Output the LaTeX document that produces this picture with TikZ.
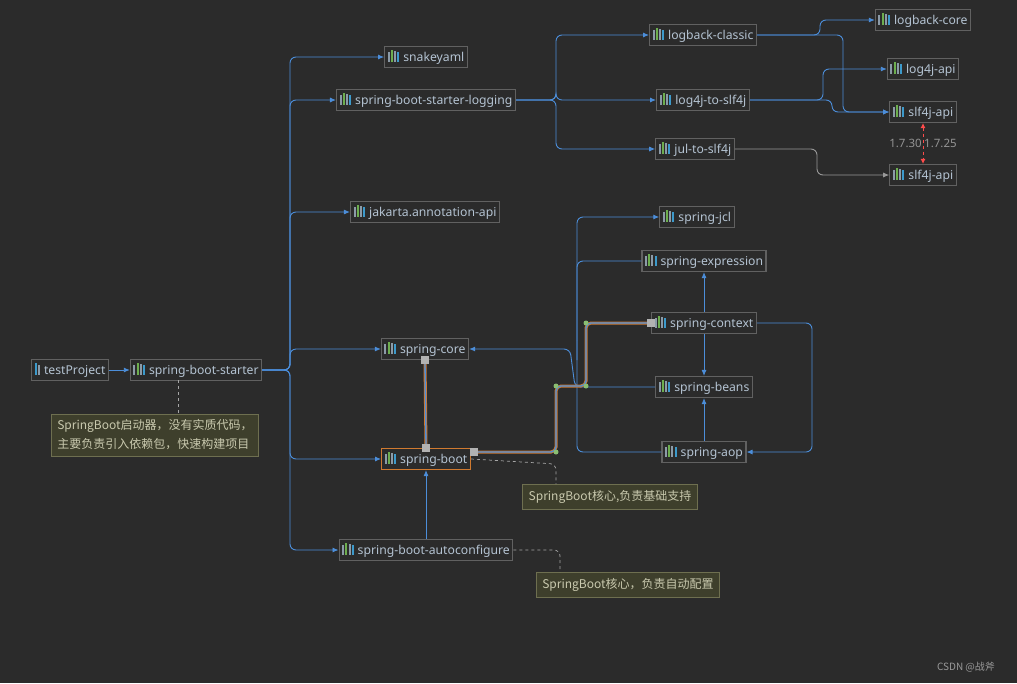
\documentclass[tikz,border=0pt]{standalone}
\usepackage{fontspec}
\setmainfont{Noto Sans}
\newfontfamily\cjk{Noto Sans CJK SC}
\usetikzlibrary{arrows.meta}
\definecolor{bg}{HTML}{2B2B2B}
\definecolor{bd}{HTML}{616161}
\definecolor{tx}{HTML}{B4C3D2}
\definecolor{ln}{HTML}{4C8EDA}
\definecolor{og}{HTML}{D07A30}
\definecolor{ig}{HTML}{6DAE4F}
\definecolor{ib}{HTML}{3D9ACB}
\definecolor{ix}{HTML}{8C9BA8}
\definecolor{nf}{HTML}{3E3F2C}
\definecolor{nb}{HTML}{6E6F50}
\definecolor{nt}{HTML}{C9C9AE}
\newcommand{\ico}{{\color{ix}\rule{2pt}{10pt}}\hspace{1.2pt}{\color{ig}\rule{2pt}{12pt}}\hspace{1.2pt}{\color{ix}\rule{2pt}{11pt}}\hspace{1.2pt}{\color{ib}\rule{2pt}{10pt}}\hspace{4pt}}
\begin{document}
\begin{tikzpicture}[x=1pt,y=-1pt,
 box/.style={draw=bd,line width=1.2pt,fill=bg,text=tx,inner sep=3pt,minimum height=20pt,font=\fontsize{12.2}{14}\selectfont},
 note/.style={draw=nb,fill=nf,text=nt,inner sep=6pt,font=\cjk\fontsize{12}{19}\selectfont,align=left},
 ed/.style={draw=ln,line width=0.9pt,rounded corners=6pt,-{Latex[length=6pt,width=5pt]}},
 pl/.style={draw=ln,line width=0.9pt,rounded corners=6pt},
 ds/.style={draw=gray!70,dashed,line width=0.7pt,rounded corners=6pt},
 hl/.style={draw=og,line width=3pt,rounded corners=5pt},
 hb/.style={draw=ln,line width=1.3pt,rounded corners=5pt},
 sq/.style={fill=gray!60!white,minimum size=8pt,inner sep=0pt},
 gd/.style={circle,fill=ig!80!white,minimum size=5pt,inner sep=0pt}]
\fill[bg] (0,0) rectangle (1017,683);
\useasboundingbox (0,0) rectangle (1017,683);
\node[box] (tp) at (70,370) {{\color{ib}\rule{2.5pt}{12pt}}\hspace{1pt}{\color{ix}\rule{2pt}{10pt}}\hspace{4pt}testProject};
\node[box] (sbs) at (196,370) {\ico spring-boot-starter};
\node[box] (sy) at (426,57) {\ico snakeyaml};
\node[box] (lg) at (426,100) {\ico spring-boot-starter-logging};
\node[box] (ja) at (425,212) {\ico jakarta.annotation-api};
\node[box] (sc) at (425,349) {\ico spring-core};
\node[box,draw=og] (sb) at (426,459) {\ico spring-boot};
\node[box] (sa) at (426,550) {\ico spring-boot-autoconfigure};
\node[box] (lc) at (703,35) {\ico logback-classic};
\node[box] (l4s) at (703,100) {\ico log4j-to-slf4j};
\node[box] (jul) at (695,149) {\ico jul-to-slf4j};
\node[box] (lcore) at (923,20) {\ico logback-core};
\node[box] (l4a) at (923,69) {\ico log4j-api};
\node[box] (s1) at (923,112) {\ico slf4j-api};
\node[box] (s2) at (923,175) {\ico slf4j-api};
\node[box] (jcl) at (697,217) {\ico spring-jcl};
\node[box] (se) at (704,261) {\ico spring-expression};
\node[box] (ctx) at (704,323) {\ico spring-context};
\node[box] (bn) at (704,387) {\ico spring-beans};
\node[box] (aop) at (704,452) {\ico spring-aop};
\node[note] (n1) at (155,435) {SpringBoot启动器，没有实质代码，\\主要负责引入依赖包，快速构建项目};
\node[note] (n2) at (610,497) {SpringBoot核心,负责基础支持};
\node[note] (n3) at (628,585) {SpringBoot核心，负责自动配置};
\node[text=gray!80,font=\cjk\fontsize{10}{12}\selectfont] (cs) at (966,667) {CSDN @战斧};
% edges
\draw[ed] (tp) -- (sbs);
\foreach \t in {sy,lg,ja,sc,sb,sa}{\draw[ed] (sbs.east) -- (290,370) |- (\t.west);}
\foreach \t in {lc,l4s,jul}{\draw[ed] (lg.east) -- (556,100) |- (\t.west);}
\draw[ed] (lc.east) -- (820,35) |- (lcore.west);
\draw[ed] (lc.east) -- (843,35) |- (s1.west);
\draw[ed] (l4s.east) -- (823,100) |- (l4a.west);
\draw[ed] (l4s.east) -- (832,100) |- (s1.west);
\draw[ed,draw=gray!80] (jul.east) -- (817,149) |- (s2.west);
\draw[red!70,dashed,line width=0.9pt,{Latex[length=5pt,width=5pt]}-{Latex[length=5pt,width=5pt]}] (s1.south) -- (s2.north);
\node[text=gray!85,font=\fontsize{11.5}{13}\selectfont,anchor=east,inner sep=1pt] (v1) at (923,143) {1.7.30};
\node[text=gray!85,font=\fontsize{11.5}{13}\selectfont,anchor=west,inner sep=1pt] (v2) at (923,143) {1.7.25};
\draw[ed] (ctx) -- (se);
\draw[ed] (ctx) -- (bn);
\draw[ed] (aop) -- (bn);
\draw[ed] (ctx.east) -- (812,323) |- (aop.east);
\draw[ed] (sa) -- (sb);
\draw[ed] (577,340) |- (jcl.west);
\draw[pl] (se.west) -| (577,360);
\draw[pl] (aop.west) -| (577,380) -- (577,340);
\draw[ed] (bn.west) -- (575,387) -- (570,349) -- (sc.east);
% highlighted path
\coordinate (sbe) at (474,452);
\draw[hl] (sc.south) -- (sb.north);
\draw[hb] (sc.south) -- (sb.north);
\draw[hl] (sbe) -- (556,452) -- (556,386) -- (586,386) -- (586,323) -- (ctx.west);
\draw[hb] (sbe) -- (556,452) -- (556,386) -- (586,386) -- (586,323) -- (ctx.west);
\node[sq] at (sc.south) {};
\node[sq] at (sb.north) {};
\node[sq] at (sbe) {};
\node[sq] at (ctx.west) {};
\foreach \p in {(556,452),(556,386),(586,386),(586,323)} \node[gd] at \p {};
% note connectors
\draw[ds] (178,380) -- (n1.north -| 178,0);
\draw[ds] (sb.east) -- (556,464) -- (n2.north -| 556,0);
\draw[ds] (sa.east) -- (560,550) -- (n3.north -| 560,0);
\end{tikzpicture}
\end{document}
